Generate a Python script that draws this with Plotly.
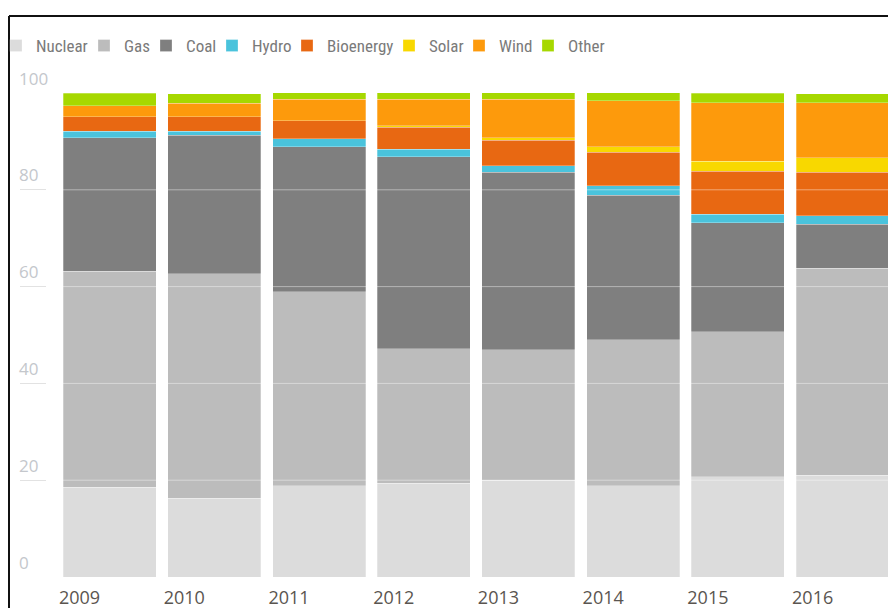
import plotly.graph_objects as go

years = ["2009", "2010", "2011", "2012", "2013", "2014", "2015", "2016"]

nuclear   = [18.5, 16.3, 18.9, 19.4, 20.0, 18.9, 20.7, 21.0]
gas       = [44.7, 46.4, 40.0, 27.8, 27.0, 30.1, 30.0, 42.8]
coal      = [27.6, 28.6, 30.0, 39.6, 36.6, 29.9, 22.5,  9.1]
hydro     = [ 1.3,  0.8,  1.6,  1.6,  1.4,  1.9,  1.8,  1.7]
bioenergy = [ 3.0,  3.0,  3.8,  4.5,  5.2,  7.0,  8.8,  9.0]
solar     = [ 0.0,  0.0,  0.0,  0.3,  0.6,  1.1,  2.1,  3.0]
wind      = [ 2.3,  2.8,  4.4,  5.5,  7.9,  9.5, 12.1, 11.4]
other     = [ 2.6,  1.9,  1.5,  1.5,  1.5,  1.7,  2.0,  1.8]

y_ticks = [0, 20, 40, 60, 80, 100]

series = [
    ("Nuclear", nuclear, "#dcdcdc"),
    ("Gas", gas, "#bcbcbc"),
    ("Coal", coal, "#7f7f7f"),
    ("Hydro", hydro, "#4ac3dc"),
    ("Bioenergy", bioenergy, "#e86812"),
    ("Solar", solar, "#f8d800"),
    ("Wind", wind, "#fd9a0c"),
    ("Other", other, "#a6d800"),
]

# layout geometry (page has an 8px body margin)
OFF = 8
W, H = 888, 600
ML, MR, MT, MB = 12, 1, 85, 31
PW, PH = W - ML - MR, H - MT - MB

def px_x(p):
    return (p - OFF - ML) / PW

def px_y(p):
    return (H - MB - (p - OFF)) / PH

# legend symbol centres (screen px), one small legend per series
legend_centres = [16, 104, 166, 232, 307, 409, 479, 548]
LEG_FONT = dict(family="Roboto Condensed, Roboto, sans-serif", size=17, color="#7a7a7a")

fig = go.Figure()
legends = {}
for i, (name, vals, color) in enumerate(series):
    key = "legend" if i == 0 else f"legend{i+1}"
    fig.add_trace(go.Bar(
        x=years, y=vals, name=name, legend=key,
        marker=dict(color=color, line=dict(width=0.8, color="rgba(255,255,255,0.35)")),
    ))
    legends[key] = dict(
        orientation="h",
        x=px_x(legend_centres[i] - 20), xanchor="left",
        y=px_y(46), yanchor="middle",
        font=LEG_FONT, itemwidth=30,
        bgcolor="rgba(0,0,0,0)",
    )

shapes = []
for t in y_ticks:
    if 0 < t < 100:
        shapes.append(dict(type="line", xref="paper", yref="y",
                           x0=px_x(46), x1=1, y0=t, y1=t, layer="above",
                           line=dict(color="rgba(255,255,255,0.42)", width=1)))
shapes.append(dict(type="line", xref="paper", yref="paper",
                   x0=px_x(9), x1=px_x(905), y0=px_y(16), y1=px_y(16),
                   line=dict(color="#111111", width=2)))
shapes.append(dict(type="line", xref="paper", yref="paper",
                   x0=px_x(9), x1=px_x(9), y0=px_y(16), y1=px_y(620),
                   line=dict(color="#111111", width=2)))

fig.update_layout(
    width=W, height=H,
    margin=dict(l=ML, r=MR, t=MT, b=MB, pad=0, autoexpand=False),
    barmode="stack",
    bargap=0.112,
    plot_bgcolor="white",
    paper_bgcolor="white",
    font=dict(family="Open Sans, sans-serif"),
    showlegend=True,
    xaxis=dict(
        type="category",
        range=[-0.855, 7.5],
        showgrid=False, zeroline=False, showline=False,
        ticks="",
        automargin=False,
        tickfont=dict(size=18, color="#5a5550"),
        ticklabelshift=-30,
        ticklabelstandoff=8,
    ),
    yaxis=dict(
        range=[0, 100],
        tickvals=y_ticks,
        showgrid=False, zeroline=False, showline=False,
        automargin=False,
        ticks="inside", ticklen=26, tickcolor="#e2e2e2", tickwidth=1,
        ticklabelposition="inside top",
        ticklabeloverflow="allow",
        ticklabelstandoff=-4,
        ticklabelshift=-2,
        tickfont=dict(size=17, color="#c4c7cc"),
        layer="above traces",
    ),
    shapes=shapes,
    **legends,
)

fig.write_html("out.html")
